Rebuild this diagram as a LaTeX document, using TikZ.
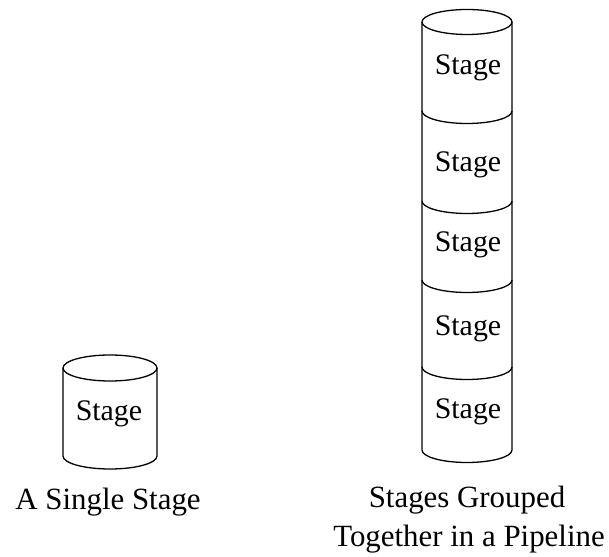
\documentclass[tikz,border=0pt]{standalone}
\usepackage{fontspec}
\setmainfont{Liberation Serif}
\begin{document}
\begin{tikzpicture}[x=1bp,y=1bp,line width=1.3pt,
  stagetext/.style={font=\fontsize{30}{36}\selectfont,inner sep=0pt},
  labeltext/.style={font=\fontsize{31}{37}\selectfont,inner sep=0pt,anchor=base},
  cyl/.style={x radius=#1,y radius=13}]
\useasboundingbox (0,0) rectangle (609,557);
% single cylinder
\draw (110,189) ellipse [x radius=47, y radius=13];
\draw (63,189) -- (63,101) arc [start angle=180, end angle=360, x radius=47, y radius=13] -- (157,189);
\node[stagetext] (s0) at (109,143) {Stage};
\node[labeltext] (l1) at (108,47) {A Single Stage};
% stacked cylinder
\draw (467,535) ellipse [x radius=45, y radius=12.5];
\draw (422,535) -- (422,107) arc [start angle=180, end angle=360, x radius=45, y radius=12.5] -- (512,535);
\foreach \yy in {446,356,277,190}{
  \draw (422,\yy) arc [start angle=180, end angle=360, x radius=45, y radius=12.5];
}
\node[stagetext] (s1) at (468,489) {Stage};
\node[stagetext] (s2) at (468,392) {Stage};
\node[stagetext] (s3) at (468,312) {Stage};
\node[stagetext] (s4) at (468,228) {Stage};
\node[stagetext] (s5) at (468,145) {Stage};
\node[labeltext] (l2) at (467,49) {Stages Grouped};
\node[labeltext] (l3) at (469,10) {Together in a Pipeline};
\end{tikzpicture}
\end{document}
